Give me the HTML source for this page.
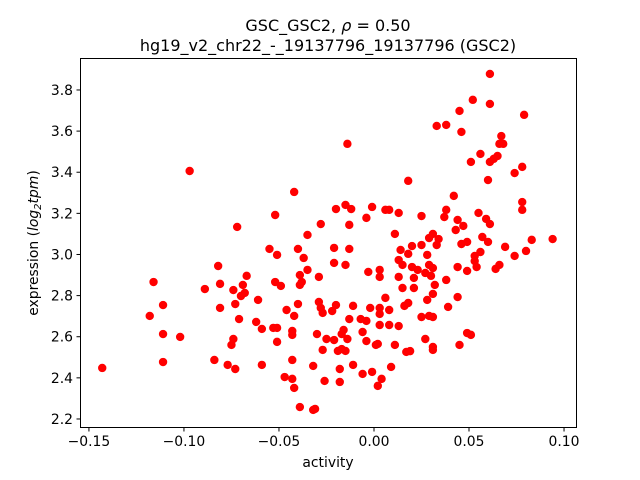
<!DOCTYPE html>
<html><head><meta charset="utf-8"><style>
body{margin:0;background:#fff;}
svg{display:block;font-family:"DejaVu Sans","Liberation Sans",sans-serif;}
</style></head><body>
<svg id="chart" width="640" height="480" viewBox="0 0 640 480" xmlns="http://www.w3.org/2000/svg">
<rect width="640" height="480" fill="#fff"/>
<text x="328" y="31" text-anchor="middle" font-size="16">GSC_GSC2, <tspan font-style="italic">ρ</tspan> = 0.50</text>
<text x="328" y="51" text-anchor="middle" font-size="16">hg19_v2_chr22_-_19137796_19137796 (GSC2)</text>
<g id="points"></g>
<rect x="80.5" y="58.5" width="496" height="369" fill="none" stroke="#000" stroke-width="1"/>
<g id="xticks"></g>
<g id="yticks"></g>
<text x="328" y="467" text-anchor="middle" font-size="13.9">activity</text>
<text transform="translate(38,243) rotate(-90)" text-anchor="middle" font-size="13.9">expression (<tspan font-style="italic">log</tspan><tspan font-style="italic" font-size="10" dy="3">2</tspan><tspan font-style="italic" dy="-3">tpm</tspan>)</text>
</svg>
<script>
const xVals=[-0.143,-0.116,-0.111,-0.118,-0.111,-0.102,-0.111,-0.072,-0.082,-0.081,-0.089,-0.074,-0.067,-0.069,-0.068,-0.070,-0.073,-0.081,-0.071,-0.074,-0.075,-0.084,-0.077,-0.073,-0.097,
-0.014,0.018,-0.042,-0.052,-0.028,-0.020,-0.015,-0.012,-0.013,-0.001,-0.004,0.006,0.008,0.013,0.011,-0.035,-0.055,-0.051,-0.040,-0.037,-0.021,-0.013,-0.021,-0.015,-0.035,-0.039,-0.038,-0.039,-0.029,-0.052,-0.049,-0.061,-0.046,-0.040,-0.042,-0.029,-0.028,-0.027,-0.022,-0.020,-0.011,-0.013,-0.007,-0.004,-0.002,0.003,0.003,0.008,0.006,0.003,0.008,0.013,0.013,0.015,0.014,0.013,0.015,-0.003,0.003,0.003,-0.062,-0.059,-0.053,-0.051,-0.051,-0.043,-0.043,-0.030,-0.025,-0.021,-0.016,-0.017,-0.014,-0.006,-0.004,0.001,0.002,0.011,0.017,-0.027,-0.019,-0.017,-0.015,-0.059,-0.043,-0.032,-0.018,-0.011,-0.006,-0.001,0.004,0.002,0.009,-0.047,-0.043,-0.042,-0.026,-0.018,-0.039,-0.032,-0.031,0.019,
0.061,0.052,0.061,0.045,0.079,0.033,0.038,0.046,0.067,0.066,0.068,0.056,0.065,0.063,0.061,0.051,0.078,0.074,0.060,0.042,0.078,0.078,0.038,0.037,0.055,0.059,0.061,0.025,0.044,0.047,0.043,0.031,0.034,0.029,0.033,0.057,0.060,0.046,0.049,0.083,0.094,0.069,0.080,0.074,0.056,0.053,0.053,0.054,0.049,0.044,0.066,0.064,0.025,0.020,0.018,0.028,0.020,0.023,0.029,0.031,0.027,0.030,0.021,0.038,0.032,0.021,0.031,0.028,0.044,0.039,0.018,0.016,0.025,0.029,0.031,0.049,0.051,0.027,0.031,0.031,0.045];
const yVals=[2.448,2.866,2.754,2.701,2.613,2.599,2.477,3.134,2.944,2.857,2.832,2.827,2.896,2.852,2.813,2.798,2.759,2.740,2.686,2.589,2.560,2.487,2.463,2.443,3.406,
3.538,3.358,3.304,3.192,3.148,3.221,3.241,3.221,3.144,3.231,3.178,3.217,3.217,3.202,3.100,3.095,3.027,2.998,3.027,2.983,3.032,3.027,2.959,2.949,2.925,2.900,2.866,2.852,2.891,2.866,2.847,2.779,2.730,2.759,2.701,2.769,2.740,2.716,2.725,2.754,2.750,2.686,2.686,2.677,2.740,2.740,2.711,2.730,2.789,2.657,2.657,2.652,2.891,2.837,3.022,2.973,2.949,2.915,2.925,2.891,2.672,2.638,2.643,2.643,2.575,2.628,2.609,2.613,2.589,2.584,2.633,2.613,2.589,2.623,2.579,2.560,2.565,2.560,2.526,2.536,2.531,2.540,2.531,2.463,2.487,2.458,2.443,2.463,2.419,2.429,2.395,2.361,2.453,2.404,2.395,2.351,2.385,2.380,2.258,2.244,2.249,2.530,
3.878,3.752,3.732,3.698,3.679,3.625,3.630,3.596,3.576,3.538,3.538,3.489,3.479,3.465,3.450,3.450,3.426,3.396,3.362,3.285,3.255,3.217,3.217,3.182,3.202,3.173,3.148,3.187,3.168,3.139,3.119,3.100,3.075,3.080,3.046,3.085,3.061,3.051,3.061,3.071,3.075,3.037,3.017,2.993,3.012,2.993,2.968,2.939,2.920,2.939,2.949,2.930,3.046,3.041,3.003,2.998,2.939,2.925,2.949,2.934,2.910,2.896,2.886,2.876,2.852,2.837,2.808,2.779,2.793,2.745,2.764,2.750,2.696,2.701,2.696,2.618,2.609,2.589,2.550,2.536,2.560];
const xTicks=[-0.15,-0.10,-0.05,0.00,0.05,0.10];
const xTickLabels=["−0.15","−0.10","−0.05","0.00","0.05","0.10"];
const yTicks=[2.2,2.4,2.6,2.8,3.0,3.2,3.4,3.6,3.8];
const yTickLabels=["2.2","2.4","2.6","2.8","3.0","3.2","3.4","3.6","3.8"];
const NS="http://www.w3.org/2000/svg";
const X0=80,X1=576,Y0=427,Y1=58;
const xMin=-0.1547,xMax=0.1063,yMin=2.1610,yMax=3.9555;
function sx(v){return X0+(v-xMin)/(xMax-xMin)*(X1-X0);}
function sy(v){return Y0-(v-yMin)/(yMax-yMin)*(Y0-Y1);}
const pg=document.getElementById('points');
for(let i=0;i<xVals.length;i++){
  const c=document.createElementNS(NS,'circle');
  c.setAttribute('cx',sx(xVals[i]).toFixed(2));
  c.setAttribute('cy',sy(yVals[i]).toFixed(2));
  c.setAttribute('r','4.2');
  c.setAttribute('fill','#ff0000');
  
  
  pg.appendChild(c);
}
const xg=document.getElementById('xticks');
xTicks.forEach((t,i)=>{
  const x=sx(t);
  const l=document.createElementNS(NS,'line');
  l.setAttribute('x1',x);l.setAttribute('x2',x);l.setAttribute('y1',427.5);l.setAttribute('y2',431.5);
  l.setAttribute('stroke','#000');
  
  
  xg.appendChild(l);
  const tx=document.createElementNS(NS,'text');
  tx.setAttribute('x',x);tx.setAttribute('y',446);tx.setAttribute('text-anchor','middle');tx.setAttribute('font-size','13.9');
  tx.textContent=xTickLabels[i];
  
  
  xg.appendChild(tx);
});
const yg=document.getElementById('yticks');
yTicks.forEach((t,i)=>{
  const y=sy(t);
  const l=document.createElementNS(NS,'line');
  l.setAttribute('x1',76.5);l.setAttribute('x2',80.5);l.setAttribute('y1',y);l.setAttribute('y2',y);
  l.setAttribute('stroke','#000');
  
  
  yg.appendChild(l);
  const tx=document.createElementNS(NS,'text');
  tx.setAttribute('x',73);tx.setAttribute('y',y+5);tx.setAttribute('text-anchor','end');tx.setAttribute('font-size','13.9');
  tx.textContent=yTickLabels[i];
  
  
  yg.appendChild(tx);
});
</script>
</body></html>
